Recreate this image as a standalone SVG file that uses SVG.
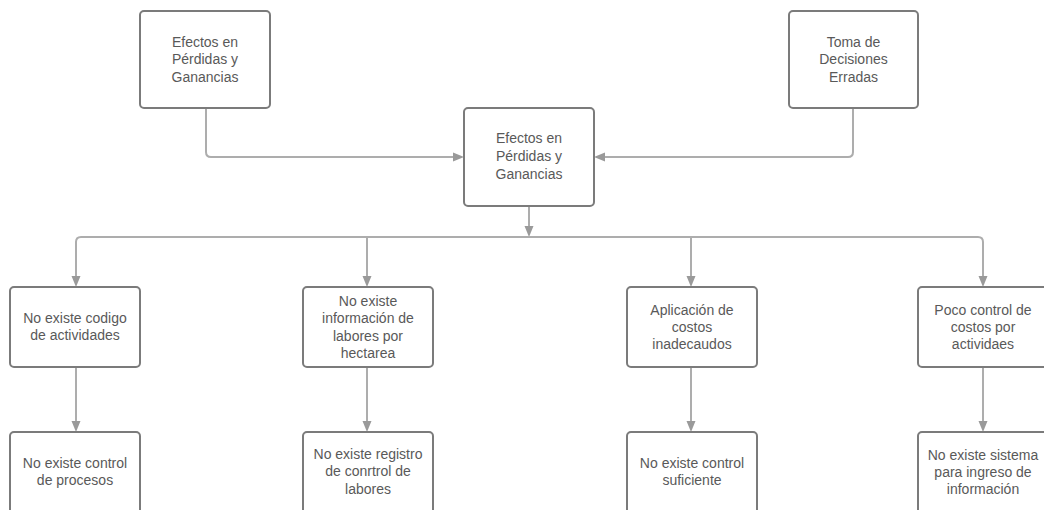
<svg xmlns="http://www.w3.org/2000/svg" width="1044" height="510" viewBox="0 0 1044 510">
<style>
.box{fill:#fff;stroke:#7b7b7b;stroke-width:2}
.t{font-family:"Liberation Sans",Arial,sans-serif;font-size:14px;fill:#595959;text-anchor:middle}
.c{fill:none;stroke:#adadad;stroke-width:2}
</style>
<defs>
<marker id="ah" markerUnits="userSpaceOnUse" markerWidth="11" markerHeight="10" refX="0" refY="5" orient="auto" viewBox="0 0 11 10">
<path d="M0,0.5 L11,5 L0,9.5 z" fill="#9a9a9a"/>
</marker>
</defs>
<rect width="1044" height="510" fill="#fff"/>
<g id="connectors">
<path class="c" d="M206 108 V152 Q206 157 211 157 H453" marker-end="url(#ah)"/>
<path class="c" d="M853 108 V152 Q853 157 848 157 H605" marker-end="url(#ah)"/>
<path class="c" d="M529 206 V226" marker-end="url(#ah)"/>
<path class="c" d="M76 276 V242 Q76 237 81 237 H978 Q983 237 983 242 V276" marker-end="url(#ah)"/>
<path class="c" d="M76 242 V276" marker-end="url(#ah)"/>
<path class="c" d="M367 237 V276" marker-end="url(#ah)"/>
<path class="c" d="M691 237 V276" marker-end="url(#ah)"/>
<path class="c" d="M76 367 V421" marker-end="url(#ah)"/>
<path class="c" d="M367 367 V421" marker-end="url(#ah)"/>
<path class="c" d="M691 367 V421" marker-end="url(#ah)"/>
<path class="c" d="M983 367 V421" marker-end="url(#ah)"/>
</g>
<g id="n1">
<rect class="box" x="140" y="11" width="130" height="97" rx="4"/>
<text class="t" x="205" y="46.5">Efectos en</text>
<text class="t" x="205" y="64">Pérdidas y</text>
<text class="t" x="205" y="81.5">Ganancias</text>
</g>
<g id="n2">
<rect class="box" x="789" y="11" width="129" height="97" rx="4"/>
<text class="t" x="853.5" y="46.5">Toma de</text>
<text class="t" x="853.5" y="64">Decisiones</text>
<text class="t" x="853.5" y="81.5">Erradas</text>
</g>
<g id="n3">
<rect class="box" x="464" y="108" width="130" height="98" rx="4"/>
<text class="t" x="529" y="142.5">Efectos en</text>
<text class="t" x="529" y="160.5">Pérdidas y</text>
<text class="t" x="529" y="178.5">Ganancias</text>
</g>
<g id="n4">
<rect class="box" x="10" y="287" width="130" height="80" rx="4"/>
<text class="t" x="75" y="322.5">No existe codigo</text>
<text class="t" x="75" y="340">de actividades</text>
</g>
<g id="n5">
<rect class="box" x="303" y="287" width="130" height="80" rx="4"/>
<text class="t" x="368" y="305.5">No existe</text>
<text class="t" x="368" y="323">información de</text>
<text class="t" x="368" y="340.5">labores por</text>
<text class="t" x="368" y="358">hectarea</text>
</g>
<g id="n6">
<rect class="box" x="627" y="287" width="130" height="80" rx="4"/>
<text class="t" x="692" y="314.5">Aplicación de</text>
<text class="t" x="692" y="331.5">costos</text>
<text class="t" x="692" y="348.5">inadecaudos</text>
</g>
<g id="n7">
<rect class="box" x="918" y="287" width="130" height="80" rx="4"/>
<text class="t" x="983" y="314.5">Poco control de</text>
<text class="t" x="983" y="331.5">costos por</text>
<text class="t" x="983" y="348.5">actividaes</text>
</g>
<g id="n8">
<rect class="box" x="10" y="432" width="130" height="82" rx="4"/>
<text class="t" x="75" y="467.5">No existe control</text>
<text class="t" x="75" y="485">de procesos</text>
</g>
<g id="n9">
<rect class="box" x="303" y="432" width="130" height="82" rx="4"/>
<text class="t" x="368" y="458.5">No existe registro</text>
<text class="t" x="368" y="476">de conrtrol de</text>
<text class="t" x="368" y="493.5">labores</text>
</g>
<g id="n10">
<rect class="box" x="627" y="432" width="130" height="82" rx="4"/>
<text class="t" x="692" y="467.5">No existe control</text>
<text class="t" x="692" y="485">suficiente</text>
</g>
<g id="n11">
<rect class="box" x="918" y="432" width="130" height="82" rx="4"/>
<text class="t" x="983" y="459.5">No existe sistema</text>
<text class="t" x="983" y="476.5">para ingreso de</text>
<text class="t" x="983" y="493.5">información</text>
</g>
</svg>
